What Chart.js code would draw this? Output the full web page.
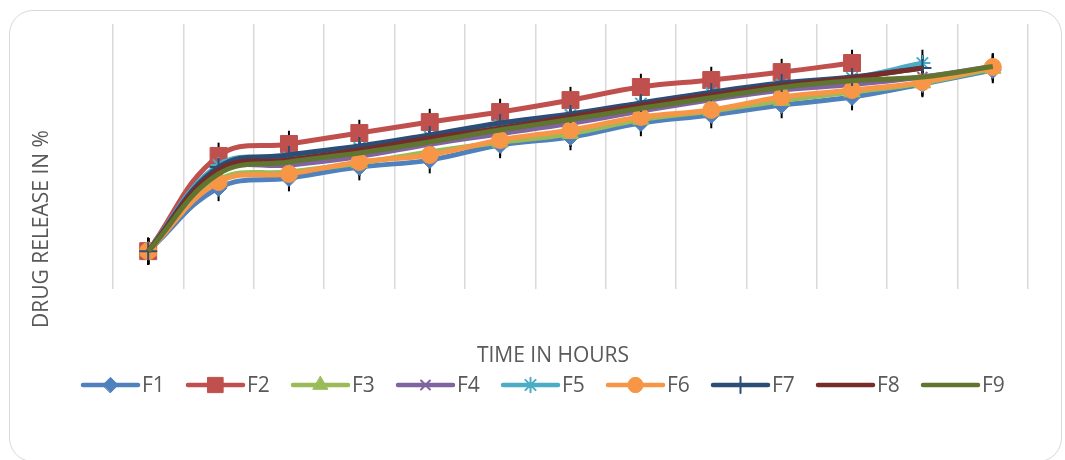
<!DOCTYPE html>
<html>
<head>
<meta charset="utf-8">
<script src="https://cdn.jsdelivr.net/npm/chart.js@4"></script>
<style>
  html, body { margin: 0; padding: 0; background: #fff; overflow: hidden; }
  #wrap { position: relative; width: 1065px; height: 460px; }
  #frame { position: absolute; left: 9px; top: 10px; width: 1053px; height: 452px;
           border: 1.5px solid #d9d9d9; border-radius: 24px; box-sizing: border-box; }
  canvas { position: absolute; left: 0; top: 0; }
</style>
</head>
<body>
<div id="wrap">
  <div id="frame"></div>
  <canvas id="releaseChart" width="1065" height="460"></canvas>
</div>
<script>
// time points (hours) - axis labels are hidden in the original
var hours = [0, 1, 2, 3, 4, 5, 6, 7, 8, 9, 10, 11, 12];

// cumulative drug release (%)
var f1 = [0, 33.4, 38.6, 44.4, 48.1, 56.1, 60.3, 67.7, 71.9, 77.2, 81.4, 88.3, 95.7];
var f2 = [0, 50.3, 56.6, 62.4, 68.2, 73.5, 79.8, 86.7, 90.4, 94.6, 99.4, null, null];
var f3 = [0, 37.6, 41.8, 46.6, 52.4, 57.5, 62.0, 69.5, 74.0, 79.5, 84.0, 88.8, 96.5];
var f4 = [0, 41.8, 45.5, 50.0, 56.5, 62.0, 67.5, 74.0, 80.0, 85.0, 88.0, 92.0, 97.5];
var f5 = [0, 45.5, 49.5, 54.5, 60.5, 66.5, 72.0, 78.0, 83.5, 88.0, 91.5, 99.4, null];
var f6 = [0, 36.5, 40.8, 47.1, 50.8, 58.7, 64.0, 70.9, 74.6, 81.4, 85.1, 89.3, 97.3];
var f7 = [0, 44.4, 50.8, 55.5, 61.4, 67.7, 72.5, 78.3, 84.0, 88.8, 92.0, 96.7, null];
var f8 = [0, 42.9, 48.1, 53.4, 59.6, 65.0, 71.0, 77.0, 82.5, 87.5, 91.5, 96.7, null];
var f9 = [0, 40.8, 47.1, 51.8, 57.7, 64.0, 69.5, 75.5, 81.0, 86.5, 90.0, 92.0, 97.5];

// error bar half-length (%) per formulation
var errorMargin = [7, 7, 7, 7, 7, 7, 7, 7, 7];

var textColor = '#595959';
var fontFamily = '"Open Sans", "Liberation Sans", sans-serif';

function series(i, label, data, color, style, radius) {
    return {
        label: label,
        data: data,
        order: 9 - i, // later series drawn on top, like Excel
        borderColor: color,
        backgroundColor: color,
        borderWidth: 5,
        tension: 0.4,
        pointStyle: style || false,
        pointRadius: style ? radius : 0,
        pointBorderColor: color,
        pointBackgroundColor: color,
        pointBorderWidth: (style === 'crossRot' || style === 'star' || style === 'cross') ? 2 : 1,
        spanGaps: false
    };
}

// black error bars, drawn under the lines
var errorBarPlugin = {
    id: 'errorBars',
    beforeDatasetsDraw: function(chart) {
        var ctx = chart.ctx;
        var y = chart.scales.y;
        ctx.save();
        ctx.strokeStyle = '#000';
        ctx.lineWidth = 2;
        chart.data.datasets.forEach(function(ds, i) {
            var meta = chart.getDatasetMeta(i);
            ds.data.forEach(function(v, j) {
                if (v === null) return;
                var px = meta.data[j].x;
                ctx.beginPath();
                ctx.moveTo(px, y.getPixelForValue(v + errorMargin[i]));
                ctx.lineTo(px, y.getPixelForValue(v - errorMargin[i]));
                ctx.stroke();
            });
        });
        ctx.restore();
    }
};

// axis titles and an Excel-style legend (line with marker in the middle)
var decorPlugin = {
    id: 'decor',
    afterDraw: function(chart) {
        var ctx = chart.ctx;
        ctx.save();
        ctx.fillStyle = textColor;
        ctx.font = '21px ' + fontFamily;
        ctx.textBaseline = 'middle';
        ctx.textAlign = 'center';
        ctx.fillText('TIME IN HOURS', 553, 356);

        ctx.save();
        ctx.translate(42, 229);
        ctx.rotate(-Math.PI / 2);
        ctx.fillText('DRUG RELEASE IN %', 0, 0);
        ctx.restore();

        var lineLen = 55, gap = 4, step = 105;
        var startX = 83, ly = 385;
        ctx.textAlign = 'left';
        chart.data.datasets.forEach(function(ds, i) {
            var x0 = startX + i * step;
            ctx.strokeStyle = ds.borderColor;
            ctx.lineWidth = 4.5;
            ctx.lineCap = 'round';
            ctx.beginPath();
            ctx.moveTo(x0, ly);
            ctx.lineTo(x0 + lineLen, ly);
            ctx.stroke();
            if (ds.pointStyle) {
                ctx.fillStyle = ds.pointBackgroundColor;
                ctx.strokeStyle = ds.pointBorderColor;
                ctx.lineWidth = ds.pointBorderWidth;
                Chart.helpers.drawPoint(ctx, {
                    pointStyle: ds.pointStyle,
                    radius: ds.pointRadius * 0.9,
                    borderWidth: ds.pointBorderWidth,
                    rotation: 0
                }, x0 + lineLen / 2, ly);
            }
            ctx.fillStyle = textColor;
            ctx.fillText(ds.label, x0 + lineLen + gap, ly + 1);
        });
        ctx.restore();
    }
};

new Chart(document.getElementById('releaseChart'), {
    type: 'line',
    data: {
        labels: hours,
        datasets: [
            series(0, 'F1', f1, '#4F81BD', 'rectRot', 8.5),
            series(1, 'F2', f2, '#C0504D', 'rect', 12),
            series(2, 'F3', f3, '#9BBB59', 'triangle', 9.5),
            series(3, 'F4', f4, '#8064A2', 'crossRot', 7),
            series(4, 'F5', f5, '#4BACC6', 'star', 8),
            series(5, 'F6', f6, '#F79646', 'circle', 8.5),
            series(6, 'F7', f7, '#2C4D75', 'cross', 9),
            series(7, 'F8', f8, '#772C2A', null, 0),
            series(8, 'F9', f9, '#5F7530', null, 0)
        ]
    },
    options: {
        responsive: false,
        animation: false,
        layout: { padding: { left: 113, right: 37, top: 24, bottom: 171 } },
        plugins: {
            legend: { display: false },
            tooltip: { enabled: false }
        },
        scales: {
            x: {
                offset: true,
                ticks: { display: false },
                border: { display: false },
                grid: { offset: true, color: '#d9d9d9', lineWidth: 1.5, drawTicks: false }
            },
            y: {
                display: false,
                min: -20,
                max: 120
            }
        }
    },
    plugins: [errorBarPlugin, decorPlugin]
});
</script>
</body>
</html>
